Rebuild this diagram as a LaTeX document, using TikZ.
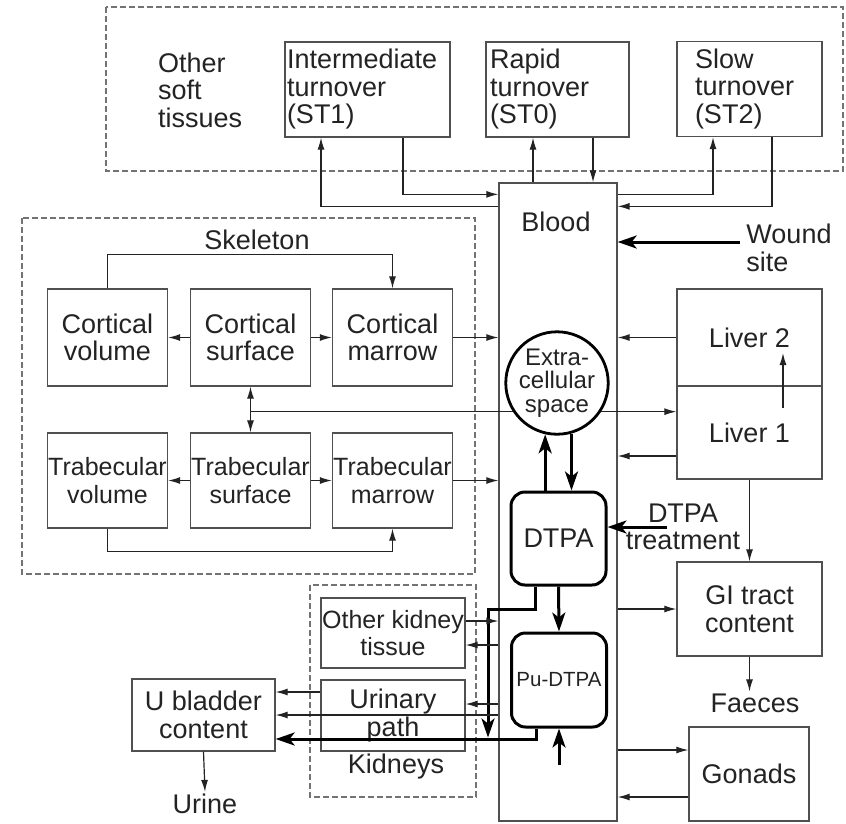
\documentclass[tikz,border=0pt]{standalone}
\usepackage{fontspec}
\setmainfont{Liberation Sans}
\usetikzlibrary{calc,arrows.meta}
\definecolor{boxGray}{RGB}{80,80,80}
\definecolor{inkGray}{RGB}{35,35,35}

\begin{document}
\begin{tikzpicture}[x=1pt,y=-1pt,
  every node/.style={font=\fontsize{27}{27.5}\selectfont,text=inkGray},
  box/.style={draw=boxGray,line width=1.3pt,minimum width=120pt,minimum height=96pt,inner sep=0pt,align=center},
  stbox/.style={draw=boxGray,line width=1.3pt,minimum height=95pt,align=left,inner ysep=0pt},
  thickbox/.style={draw=black,line width=3pt,rounded corners=14pt,minimum width=95pt,minimum height=94pt,inner sep=0pt,align=center},
  lab/.style={align=center,inner sep=2pt},
  dashbox/.style={draw=boxGray!80,line width=1.2pt,dash pattern=on 6pt off 3pt},
  arr/.style={draw=inkGray,line width=1.2pt,-{Latex[length=12pt,width=7pt]}},
  tarr/.style={draw=black,line width=3pt,line join=miter,-{Stealth[length=19pt,width=13pt,inset=5pt]}}]
\useasboundingbox (0,0) rectangle (846,823);

% dashed groups
\draw[dashbox] (106,7) rectangle (843,171);
\draw[dashbox] (22,218) rectangle (475,574);
\draw[dashbox] (310,585) rectangle (476,797);

% soft tissues
\node[lab,align=left,anchor=west] (othersoft) at (156,90) {Other\\soft\\tissues};
\node[stbox,text width=161pt,inner xsep=2pt] (st1) at (367.5,89.5) {Intermediate\\turnover\\(ST1)};
\node[stbox,text width=135pt,inner xsep=4pt] (st0) at (557.5,89.5) {Rapid\\turnover\\(ST0)};
\node[stbox,text width=109pt,inner xsep=18pt] (st2) at (749.5,89) {Slow\\turnover\\(ST2)};

% blood and central compartments
\node[draw=boxGray,line width=1.3pt,minimum width=118pt,minimum height=638pt,inner sep=0pt] (blood) at (558,502) {};
\node[lab] (bloodlab) at (556,222) {Blood};
\node[draw=black,line width=2.8pt,circle,minimum size=95pt,inner sep=0pt,align=center,
  font=\fontsize{24}{23.5}\selectfont] (ext) at (557,383) {Extra-\\cellular\\space};
\node[thickbox,minimum height=93pt] (dtpa) at (558.5,538.5) {DTPA};
\node[thickbox,font=\fontsize{20.5}{22}\selectfont] (pudtpa) at (559,680) {Pu-DTPA};

% skeleton
\node[lab] (skellab) at (257,240) {Skeleton};
\node[box,minimum height=97pt] (cvol) at (107.5,337.5) {Cortical\\volume};
\node[box,minimum height=97pt] (csurf) at (250.5,337.5) {Cortical\\surface};
\node[box,minimum height=97pt] (cmar) at (392.5,337.5) {Cortical\\marrow};
\node[box,minimum height=95pt,font=\fontsize{25}{27.5}\selectfont] (tvol) at (107.5,480.5) {Trabecular\\volume};
\node[box,minimum height=95pt,font=\fontsize{25}{27.5}\selectfont] (tsurf) at (250.5,480.5) {Trabecular\\surface};
\node[box,minimum height=95pt,font=\fontsize{25}{27.5}\selectfont] (tmar) at (392.5,480.5) {Trabecular\\marrow};

% right side
\node[lab,align=left] (wound) at (789,248) {Wound\\site};
\node[box,minimum width=145pt,minimum height=97pt] (liver2) at (749.5,337.5) {Liver 2};
\node[box,minimum width=145pt,minimum height=93pt] (liver1) at (749.5,432.5) {Liver 1};
\node[lab] (dtreat) at (683,527) {DTPA\\treatment};
\node[box,minimum width=145pt,minimum height=94pt] (gi) at (749.5,609) {GI tract\\content};
\node[lab] (faeces) at (755,703) {Faeces};
\node[box,minimum width=120pt,minimum height=94pt] (gonads) at (749,774) {Gonads};

% kidneys and bladder
\node[box,minimum width=144pt,minimum height=70pt,font=\fontsize{25}{27}\selectfont] (oktissue) at (393,633) {Other kidney\\tissue};
\node[box,minimum width=144pt,minimum height=71pt] (urinary) at (393,715.5) {Urinary\\path};
\node[lab] (kidlab) at (396,767) {Kidneys};
\node[box,minimum width=143pt,minimum height=72pt] (ubladder) at (203.5,715) {U bladder\\content};
\node[lab] (urine) at (205,804) {Urine};

% soft tissue exchange
\draw[arr] ($(blood.north west)+(0,24)$) -| ($(st1.south)+(-46.5,0)$);
\draw[arr] ($(st1.south)+(35.5,0)$) |- ($(blood.north west)+(0,12)$);
\draw[arr] ($(blood.north)+(-25,0)$) -- ($(st0.south)+(-24.5,0)$);
\draw[arr] ($(st0.south)+(35.5,0)$) -- ($(blood.north)+(35,0)$);
\draw[arr] ($(blood.north east)+(0,12)$) -| ($(st2.south)+(-36.5,0)$);
\draw[arr] ($(st2.south)+(22.5,0)$) |- ($(blood.north east)+(0,24)$);
\coordinate (w0) at ($(wound.west)+(-4,-6)$);
\draw[tarr] (w0) -- (w0 -| blood.east);

% skeleton exchange
\draw[arr] (csurf.west) -- (cvol.east);
\draw[arr] (csurf.east) -- (cmar.west);
\draw[arr] (tsurf.west) -- (tvol.east);
\draw[arr] (tsurf.east) -- (tmar.west);
\draw[arr] (cvol.north) -- ++(0,-34) -| (cmar.north);
\draw[arr] (tvol.south) -- ++(0,23) -| (tmar.south);
\draw[arr] (ext.213) -| (csurf.south);
\draw[arr] (ext.213 -| tsurf.north) -- (tsurf.north);
\draw[arr] (cmar.east) -- (cmar.east -| blood.west);
\draw[arr] (tmar.east) -- (tmar.east -| blood.west);

% liver and gut
\draw[arr] (ext.-33) -- (ext.-33 -| liver1.west);
\draw[arr] (liver2.west) -- (liver2.west -| blood.east);
\coordinate (l1o) at ($(liver1.west)+(0,23.5)$);
\draw[arr] (l1o) -- (l1o -| blood.east);
\draw[arr] ($(liver1.center)+(33.5,-24.5)$) -- ($(liver2.center)+(33.5,15.5)$);
\draw[arr] (liver1.south) -- (gi.north);
\draw[arr] (gi.west -| blood.east) -- (gi.west);
\draw[arr] (gi.south) -- (gi.south |- faeces.north);
\coordinate (g1) at ($(gonads.west)+(0,-24)$);
\draw[arr] (g1 -| blood.east) -- (g1);
\coordinate (g2) at ($(gonads.west)+(0,23)$);
\draw[arr] (g2) -- (g2 -| blood.east);

% DTPA chelation
\draw[tarr] (ext.-74) -- (ext.-74 |- dtpa.north);
\draw[tarr] (ext.-103 |- dtpa.north) -- (ext.-103);
\coordinate (dt0) at ($(dtreat.center)+(-16,0)$);
\draw[tarr] (dt0) -- (dt0 -| dtpa.east);
\draw[tarr] (dtpa.south) -- (pudtpa.north);
\draw[tarr] ($(pudtpa.south)+(0,36)$) -- (pudtpa.south);
\draw[tarr] ($(dtpa.south)+(-23.5,0)$) -- ++(0,23) -- ++(-47,0) -- ++(0,128);
\draw[tarr] ($(pudtpa.south)+(-23,0)$) |- ($(ubladder.east)+(0,24)$);

% kidneys and urine
\coordinate (ko) at ($(oktissue.east)+(0,-12)$);
\draw[arr] (ko) -- (ko -| blood.west);
\coordinate (ki) at ($(oktissue.east)+(0,12)$);
\draw[arr] (ki -| blood.west) -- (ki);
\coordinate (ui) at ($(urinary.east)+(0,-11.5)$);
\draw[arr] (ui -| blood.west) -- (ui);
\draw[arr] (ubladder.east -| blood.west) -- (ubladder.east);
\coordinate (uo) at ($(urinary.west)+(0,-23.5)$);
\draw[arr] (uo) -- (uo -| ubladder.east);
\draw[arr] (ubladder.south) -- (urine.north);
\end{tikzpicture}
\end{document}
